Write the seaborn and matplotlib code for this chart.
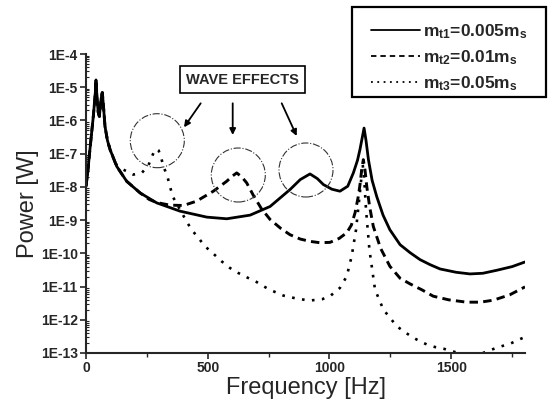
import numpy as np
import matplotlib
matplotlib.use("Agg")
import matplotlib.pyplot as plt
import matplotlib.ticker as ticker
from matplotlib.patches import Ellipse, Rectangle
from matplotlib.lines import Line2D
import seaborn as sns

# frequency in Hz, power as log10 of watts
freq_t1 = [0, 8, 16, 30, 38, 41, 45, 50, 55, 60, 64, 67, 71, 78, 88, 99, 126, 167, 222, 290,
           386, 496, 578, 674, 756, 838, 880, 920, 950, 975, 1010, 1043, 1075, 1098, 1115, 1125,
           1135, 1142, 1150, 1160, 1175, 1194, 1220, 1248, 1290, 1331, 1372, 1413, 1454, 1520,
           1577, 1630, 1687, 1750, 1803]
exp_t1 = [-7.98, -7.5, -6.88, -5.88, -5.2, -4.78, -5.3, -5.75, -5.88, -5.5, -5.25, -5.16, -5.5,
          -6.18, -6.6, -6.88, -7.38, -7.83, -8.18, -8.48, -8.73, -8.91, -8.96, -8.85, -8.59,
          -8.08, -7.78, -7.61, -7.75, -7.93, -8.07, -8.13, -7.98, -7.58, -7.2, -6.88, -6.5,
          -6.23, -6.6, -7.18, -7.8, -8.29, -8.85, -9.29, -9.74, -9.98, -10.19, -10.34, -10.47,
          -10.57, -10.62, -10.6, -10.51, -10.4, -10.26]

freq_t2 = [0, 8, 16, 30, 38, 41, 45, 50, 55, 60, 64, 67, 71, 78, 88, 99, 126, 167, 222, 260,
           290, 345, 400, 454, 523, 578, 600, 619, 640, 660, 687, 720, 756, 800, 838, 880, 920,
           960, 1002, 1040, 1071, 1090, 1105, 1118, 1125, 1132, 1139, 1146, 1153, 1165, 1180,
           1210, 1248, 1290, 1331, 1380, 1426, 1490, 1563, 1620, 1673, 1740, 1803]
exp_t2 = [-7.98, -7.5, -6.88, -5.88, -5.2, -4.78, -5.3, -5.75, -5.88, -5.5, -5.25, -5.16, -5.5,
          -6.18, -6.6, -6.88, -7.38, -7.83, -8.18, -8.38, -8.47, -8.55, -8.56, -8.43, -8.13,
          -7.83, -7.68, -7.58, -7.7, -7.88, -8.25, -8.65, -8.98, -9.25, -9.44, -9.57, -9.64,
          -9.68, -9.67, -9.55, -9.38, -9.15, -8.78, -8.3, -7.95, -7.5, -7.18, -7.5, -7.98,
          -8.6, -9.19, -9.85, -10.39, -10.75, -10.92, -11.1, -11.29, -11.4, -11.47, -11.47,
          -11.41, -11.25, -11.01]

freq_t3 = [0, 8, 16, 30, 38, 41, 45, 50, 55, 60, 64, 67, 71, 78, 88, 99, 126, 153, 194, 229,
           256, 270, 282, 290, 298, 307, 318, 334, 356, 386, 413, 434, 461, 489, 523, 557, 591,
           625, 660, 700, 750, 810, 870, 920, 970, 1002, 1043, 1071, 1091, 1109, 1122, 1130,
           1136, 1143, 1150, 1164, 1187, 1221, 1276, 1303, 1338, 1369, 1399, 1433, 1468, 1520,
           1580, 1630, 1680, 1714, 1745, 1780, 1803]
exp_t3 = [-7.98, -7.5, -6.88, -5.88, -5.2, -4.78, -5.3, -5.75, -5.88, -5.5, -5.25, -5.16, -5.5,
          -6.18, -6.6, -6.88, -7.35, -7.48, -7.63, -7.58, -7.36, -7.1, -6.9, -6.86, -6.9, -7.08,
          -7.38, -7.68, -8.29, -8.68, -9.04, -9.29, -9.53, -9.79, -10.01, -10.24, -10.44,
          -10.59, -10.72, -10.86, -11.08, -11.27, -11.37, -11.42, -11.38, -11.29, -11.04,
          -10.69, -10.09, -9.29, -8.38, -7.8, -7.3, -7.8, -8.68, -9.89, -11.09, -11.69, -12.19,
          -12.34, -12.51, -12.64, -12.74, -12.82, -12.87, -12.98, -13.05, -13.0, -12.86,
          -12.78, -12.71, -12.59, -12.52]

labels = [r"m$_{\mathrm{t1}}$=0.005m$_{\mathrm{s}}$",
          r"m$_{\mathrm{t2}}$=0.01m$_{\mathrm{s}}$",
          r"m$_{\mathrm{t3}}$=0.05m$_{\mathrm{s}}$"]
decades = list(range(-13, -3))
x_ticks = [0, 500, 1000, 1500]

sns.set_style("ticks")
plt.rcParams["font.family"] = ["Liberation Sans", "DejaVu Sans"]
plt.rcParams["mathtext.fontset"] = "custom"
plt.rcParams["mathtext.rm"] = "Liberation Sans:bold"
plt.rcParams["mathtext.it"] = "Liberation Sans:bold"
plt.rcParams["mathtext.bf"] = "Liberation Sans:bold"

W, H = 548, 405
fig = plt.figure(figsize=(W / 100, H / 100), dpi=100)
ax = fig.add_axes([86 / W, 1 - 353 / H, (525 - 86) / W, (353 - 54) / H])

styles = [
    dict(lw=2.0, dashes=None),
    dict(lw=2.1, dashes=(2.9, 1.8)),
    dict(lw=1.9, dashes=(1.0, 2.8)),
]
series = [(freq_t1, exp_t1), (freq_t2, exp_t2), (freq_t3, exp_t3)]
for (f, e), st in zip(series, styles):
    sns.lineplot(x=f, y=10.0 ** np.array(e), ax=ax, color="black", lw=st["lw"],
                 estimator=None, sort=False)
    line = ax.lines[-1]
    if st["dashes"] is not None:
        line.set_dashes(st["dashes"])

ax.set_yscale("log")
ax.set_xlim(0, 1803)
ax.set_ylim(1e-13, 1e-4)
ax.yaxis.set_major_locator(ticker.FixedLocator([10.0 ** d for d in decades]))
ax.yaxis.set_major_formatter(ticker.FuncFormatter(lambda v, p: f"1E{int(round(np.log10(v)))}"))
ax.yaxis.set_minor_locator(ticker.LogLocator(base=10, subs=np.arange(2, 10), numticks=20))
ax.yaxis.set_minor_formatter(ticker.NullFormatter())
ax.xaxis.set_major_locator(ticker.FixedLocator(x_ticks))
ax.xaxis.set_minor_locator(ticker.MultipleLocator(250))

for lab in ax.get_xticklabels() + ax.get_yticklabels():
    lab.set_fontweight("bold")
ax.tick_params(axis="both", which="major", labelsize=10, direction="out", length=4, width=1.2,
               pad=2)
ax.tick_params(axis="y", which="minor", direction="in", length=2.5, width=0.8)
ax.tick_params(axis="x", which="minor", direction="out", length=3, width=1.0)
sns.despine(ax=ax)
for side in ["left", "bottom"]:
    ax.spines[side].set_linewidth(1.5)

ax.set_xlabel("Frequency [Hz]", fontsize=17, labelpad=1)
ax.set_ylabel("Power [W]", fontsize=17, labelpad=1)

# legend box, top right, closed right at the figure edge
fig.add_artist(Rectangle((352 / W, 1 - 97 / H), (546 - 352) / W, 90 / H,
                         transform=fig.transFigure, fill=False, ec="black", lw=1.6))
handles = [Line2D([], [], color="black", lw=1.3),
           Line2D([], [], color="black", lw=1.3, dashes=(3, 2.2)),
           Line2D([], [], color="black", lw=1.3, dashes=(1, 2.5))]
leg = fig.legend(handles, labels, loc="upper left", bbox_to_anchor=(371 / W, 1 - 22 / H),
                 fontsize=12.5, frameon=False, handlelength=2.8, handletextpad=0.2,
                 labelspacing=0.42, borderpad=0, borderaxespad=0)
for t in leg.get_texts():
    t.set_fontweight("bold")

# "WAVE EFFECTS" note with arrows and circles
fig.text(242.5 / W, 1 - 79.5 / H, "WAVE EFFECTS", ha="center", va="center", fontsize=10.5,
         fontweight="bold",
         bbox=dict(boxstyle="square,pad=0.42", fc="white", ec="black", lw=1.2))
arrows = [((200.7, 103.3), (184.0, 127.3)),
          ((232.7, 103.3), (232.7, 135.0)),
          ((281.7, 103.3), (296.7, 136.0))]
for (x0, y0), (x1, y1) in arrows:
    ax.annotate("", xy=(x1 / W, 1 - y1 / H), xytext=(x0 / W, 1 - y0 / H),
                xycoords="figure fraction", textcoords="figure fraction",
                arrowprops=dict(arrowstyle="-|>", color="black", lw=1.3,
                                mutation_scale=9, shrinkA=0, shrinkB=0))
circles = [(157.3, 140.7), (238.3, 175.0), (306.0, 170.0)]
r = 27
for cx, cy in circles:
    fig.add_artist(Ellipse((cx / W, 1 - cy / H), 2 * r / W, 2 * r / H,
                           transform=fig.transFigure, fill=False, ec="#333333", lw=0.8,
                           ls="-."))

fig.savefig("out.png", dpi=100)
